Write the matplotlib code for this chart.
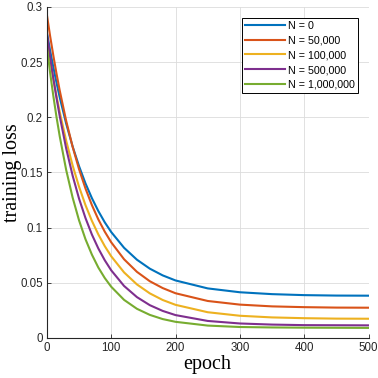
import matplotlib
matplotlib.use('Agg')
import matplotlib.pyplot as plt

epoch = [0, 5, 10, 15, 20, 30, 40, 50, 60, 70, 80, 90, 100, 120, 140, 160, 180,
         200, 250, 300, 350, 400, 450, 500]

loss_0 = [0.277, 0.2606, 0.2455, 0.2313, 0.218, 0.1943, 0.1736, 0.1557, 0.1401,
          0.1267, 0.115, 0.1048, 0.096, 0.0817, 0.0709, 0.0628, 0.0567, 0.0521,
          0.0449, 0.0414, 0.0397, 0.0388, 0.0384, 0.0383]
loss_50k = [0.293, 0.2738, 0.2561, 0.2395, 0.2242, 0.1968, 0.1733, 0.153, 0.1355,
            0.1204, 0.1074, 0.0963, 0.0867, 0.0713, 0.0599, 0.0514, 0.0452, 0.0405,
            0.0335, 0.0302, 0.0286, 0.0279, 0.0275, 0.0274]
loss_100k = [0.270, 0.2518, 0.2349, 0.2193, 0.2048, 0.1788, 0.1564, 0.1371, 0.1204,
             0.1061, 0.0938, 0.0832, 0.074, 0.0594, 0.0485, 0.0404, 0.0344, 0.030,
             0.0233, 0.0201, 0.0186, 0.0179, 0.0175, 0.0174]
loss_500k = [0.276, 0.2548, 0.2354, 0.2174, 0.201, 0.1718, 0.1472, 0.1263, 0.1087,
             0.0937, 0.0811, 0.0704, 0.0613, 0.0471, 0.037, 0.0297, 0.0245, 0.0207,
             0.0154, 0.0131, 0.0121, 0.0116, 0.0115, 0.0114]
loss_1m = [0.264, 0.2407, 0.2195, 0.2002, 0.1827, 0.1523, 0.1273, 0.1066, 0.0895,
           0.0755, 0.0638, 0.0543, 0.0464, 0.0345, 0.0264, 0.0209, 0.0171, 0.0146,
           0.0112, 0.0099, 0.0095, 0.0093, 0.0092, 0.0091]

labels = ['N = 0', 'N = 50,000', 'N = 100,000', 'N = 500,000', 'N = 1,000,000']
colors = ['#0072BD', '#D95319', '#EDB120', '#7E2F8E', '#77AC30']
series = [loss_0, loss_50k, loss_100k, loss_500k, loss_1m]

fig = plt.figure(figsize=(3.78, 3.78), dpi=100)
ax = fig.add_axes([0.124, 0.106, 0.851, 0.8755])

for y, c, lab in zip(series, colors, labels):
    ax.plot(epoch, y, color=c, lw=1.5, label=lab)

ax.set_xlim(0, 500)
ax.set_ylim(0, 0.3)
ax.set_xticks([0, 100, 200, 300, 400, 500])
ax.set_yticks([0, 0.05, 0.1, 0.15, 0.2, 0.25, 0.3])
ax.set_yticklabels(['0', '0.05', '0.1', '0.15', '0.2', '0.25', '0.3'])
ax.grid(True, color='#dcdcdc', lw=0.6)
ax.set_axisbelow(True)
ax.spines['top'].set_visible(False)
ax.spines['right'].set_visible(False)
ax.spines['left'].set_color('#262626')
ax.spines['bottom'].set_color('#262626')
ax.tick_params(direction='in', length=3, width=0.6, colors='#262626',
               labelsize=8.3, pad=3)
for t in ax.get_xticklabels() + ax.get_yticklabels():
    t.set_family('Liberation Sans')

ax.set_xlabel('epoch', family='Liberation Serif', fontsize=14.5, labelpad=1)
ax.set_ylabel('training loss', family='Liberation Serif', fontsize=14.5)
ax.yaxis.set_label_coords(-0.078, 0.5)

leg = ax.legend(loc='upper right', bbox_to_anchor=(0.967, 0.967),
                prop={'family': 'Liberation Sans', 'size': 7.7},
                fancybox=False, framealpha=1, edgecolor='black',
                handlelength=3.8, handletextpad=0.3, labelspacing=0.45,
                borderpad=0.25, borderaxespad=0)
leg.get_frame().set_linewidth(0.7)

fig.savefig('out.png', dpi=100)
